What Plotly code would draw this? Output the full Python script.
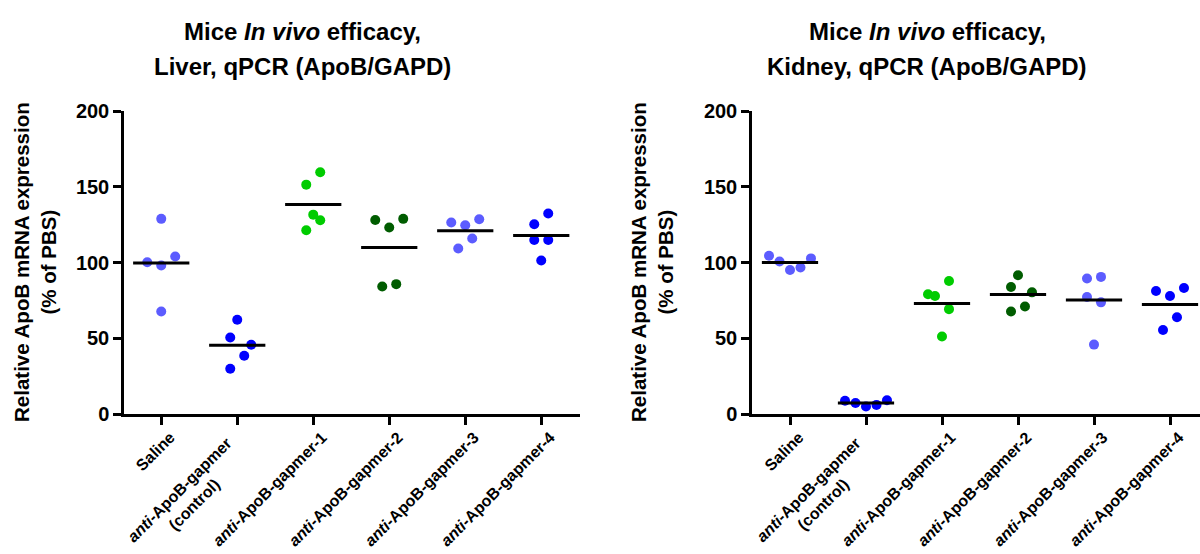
import numpy as np
import plotly.graph_objects as go

# ---------------- data ----------------
categories = ["Saline", "anti-ApoB-gapmer (control)", "anti-ApoB-gapmer-1",
              "anti-ApoB-gapmer-2", "anti-ApoB-gapmer-3", "anti-ApoB-gapmer-4"]
tick_labels = ["Saline",
               "<i>anti</i>-ApoB-gapmer<br>(control)",
               "<i>anti</i>-ApoB-gapmer-1",
               "<i>anti</i>-ApoB-gapmer-2",
               "<i>anti</i>-ApoB-gapmer-3",
               "<i>anti</i>-ApoB-gapmer-4"]

liver_saline = [128.8, 100.2, 104.0, 98.0, 67.7]
liver_control = [62.2, 50.5, 45.7, 38.5, 29.9]
liver_g1 = [159.6, 151.4, 131.6, 127.9, 121.3]
liver_g2 = [128.8, 128.1, 123.1, 85.7, 84.2]
liver_g3 = [128.6, 126.4, 124.6, 115.8, 109.2]
liver_g4 = [132.3, 125.3, 114.9, 114.9, 101.3]

kidney_saline = [104.4, 100.7, 95.1, 96.7, 102.7]
kidney_control = [8.8, 7.3, 4.9, 6.0, 9.1]
kidney_g1 = [87.8, 79.0, 77.9, 69.2, 51.1]
kidney_g2 = [91.6, 83.8, 80.3, 71.0, 67.7]
kidney_g3 = [90.5, 89.4, 77.2, 73.7, 45.8]
kidney_g4 = [83.2, 81.2, 77.9, 63.9, 55.5]

# horizontal scatter slots (in symbol steps) for the column scatter layout
liver_slots = [[0, -2, 2, 0, 0], [0, -1, 2, 1, -1], [1, -1, 0, 1, -1],
               [2, -2, 0, 1, -1], [2, -2, 0, 1, -1], [1, -1, -1, 1, 0]]
kidney_slots = [[-3, -1.5, 0, 1.5, 3], [-3, -1.5, 0, 1.5, 3], [1, -2, -1, 1, 0],
                [0, -1, 2, 1, -1], [1, -1, -1, 1, 0], [2, -2, 0, 1, -1]]

liver = [liver_saline, liver_control, liver_g1, liver_g2, liver_g3, liver_g4]
kidney = [kidney_saline, kidney_control, kidney_g1, kidney_g2, kidney_g3, kidney_g4]

# ---------------- style ----------------
colors = ["#5C5CFF", "#0000FF", "#00CC00", "#005C00", "#5C5CFF", "#0000FF"]
STEP = 0.092
HALF = 0.37
FONT = "Liberation Sans, Arial, sans-serif"
XFONT = dict(family=FONT, size=16, color="black", weight="bold")

fig = go.Figure()


def add_panel(groups, slots, xa, ya):
    for i, (vals, sl) in enumerate(zip(groups, slots)):
        xs = [i + s * STEP for s in sl]
        fig.add_trace(go.Scatter(
            x=xs, y=vals, mode="markers", xaxis=xa, yaxis=ya,
            marker=dict(color=colors[i], size=10, line=dict(width=0)),
            cliponaxis=False, showlegend=False, name=categories[i]))
        m = float(np.mean(vals))
        fig.add_trace(go.Scatter(
            x=[i - HALF, i + HALF], y=[m, m], mode="lines", xaxis=xa, yaxis=ya,
            line=dict(color="black", width=3), cliponaxis=False,
            showlegend=False, hoverinfo="skip"))


add_panel(liver, liver_slots, "x", "y")
add_panel(kidney, kidney_slots, "x2", "y2")

W, H = 1200, 554
ydom = [(H - 414) / H, (H - 111) / H]

# the two-line label is drawn as a centred rotated annotation (as in the original)
axis_ticktext = [t if i != 1 else "" for i, t in enumerate(tick_labels)]

xcommon = dict(
    tickmode="array", tickvals=list(range(6)), ticktext=axis_ticktext,
    tickangle=-45, ticks="outside", ticklen=8, tickwidth=2.5, tickcolor="black",
    showline=True, linecolor="black", linewidth=2.5, showgrid=False, zeroline=False,
    tickfont=XFONT, ticklabelshift=9, ticklabelstandoff=-3,
    fixedrange=True, automargin=False,
)
ycommon = dict(
    range=[0, 200], tickvals=[0, 50, 100, 150, 200],
    ticks="outside", ticklen=8, tickwidth=2.5, tickcolor="black",
    showline=True, linecolor="black", linewidth=2.5, showgrid=False, zeroline=False,
    tickfont=dict(family=FONT, size=20, color="black", weight="bold"),
    domain=ydom, fixedrange=True, automargin=False,
)

fig.update_layout(
    width=W, height=H, margin=dict(l=0, r=0, t=0, b=0, autoexpand=False),
    paper_bgcolor="white", plot_bgcolor="white",
    font=dict(family=FONT, color="black"),
    xaxis=dict(domain=[124 / W, 580 / W], range=[-0.49, 5.51], anchor="y", **xcommon),
    yaxis=dict(anchor="x", **ycommon),
    xaxis2=dict(domain=[752 / W, 1.0], range=[-0.5, -0.5 + 448 / 76], anchor="y2", **xcommon),
    yaxis2=dict(anchor="x2", **ycommon),
)

for xref in ("x", "x2"):
    fig.add_annotation(text=tick_labels[1], x=1 - 50 / 76, y=1 - 497 / H,
                       xref=xref, yref="paper", xanchor="center", yanchor="middle",
                       textangle=-45, showarrow=False, align="center", font=XFONT)

titles = [("Mice <i>In vivo</i> efficacy,", "Liver, qPCR (ApoB/GAPD)", 302),
          ("Mice <i>In vivo</i> efficacy,", "Kidney, qPCR (ApoB/GAPD)", 927)]
for l1, l2, cx in titles:
    for txt, cy in ((l1, 31), (l2, 67)):
        fig.add_annotation(text=txt, x=cx / W, y=1 - cy / H, xref="paper", yref="paper",
                           xanchor="center", yanchor="middle", showarrow=False,
                           font=dict(family=FONT, size=24, color="black", weight="bold"))

for cx in (35, 652):
    fig.add_annotation(text="Relative ApoB mRNA expression<br>(% of PBS)",
                       x=cx / W, y=1 - 262 / H, xref="paper", yref="paper",
                       xanchor="center", yanchor="middle", textangle=-90, showarrow=False,
                       font=dict(family=FONT, size=20.5, color="black", weight="bold"))

fig.write_html("out.html", config={"displayModeBar": False},
               post_script="document.body.style.margin='0';document.body.style.overflow='hidden';")
